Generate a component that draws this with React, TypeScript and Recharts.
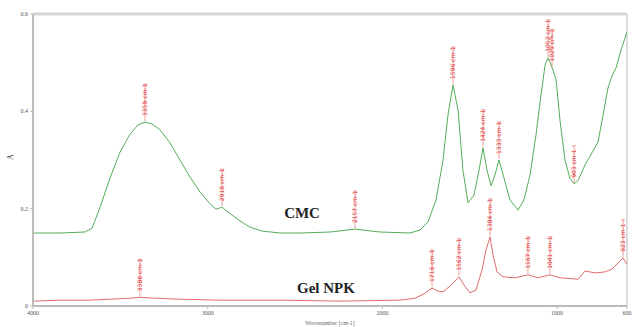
import { LineChart, Line, XAxis, YAxis, ReferenceLine, ReferenceDot } from 'recharts'

// wavenumbers (cm-1) and absorbance
const cmcWn = [
  4000, 3845, 3702, 3662, 3616, 3559, 3502, 3445, 3399, 3359, 3319, 3273, 3216, 3159, 3101, 3044,
  2987, 2953, 2918, 2884, 2815, 2758, 2689, 2586, 2472, 2300, 2157, 2014, 1842, 1785, 1739, 1693,
  1653, 1625, 1596, 1567, 1539, 1510, 1476, 1447, 1424, 1401, 1378, 1356, 1333, 1304, 1270, 1224,
  1190, 1155, 1121, 1092, 1069, 1052, 1041, 1029, 1006, 983, 955, 926, 903, 880, 840, 800, 766,
  737, 709, 686, 663, 635, 600,
]
const cmcAbs = [
  0.15, 0.15, 0.152, 0.16, 0.203, 0.263, 0.316, 0.353, 0.372, 0.378, 0.374, 0.362, 0.335, 0.3,
  0.265, 0.234, 0.21, 0.199, 0.203, 0.193, 0.175, 0.162, 0.154, 0.15, 0.15, 0.152, 0.158, 0.152,
  0.15, 0.156, 0.173, 0.218, 0.3, 0.392, 0.454, 0.403, 0.279, 0.212, 0.228, 0.279, 0.325, 0.279,
  0.247, 0.269, 0.3, 0.263, 0.218, 0.197, 0.218, 0.269, 0.351, 0.434, 0.495, 0.51, 0.501, 0.49,
  0.465, 0.38, 0.3, 0.262, 0.251, 0.258, 0.29, 0.315, 0.337, 0.392, 0.448, 0.472, 0.489, 0.525,
  0.563,
]

const gelWn = [
  4000, 3845, 3674, 3559, 3445, 3388, 3302, 3159, 2930, 2586, 2243, 1899, 1813, 1762, 1716, 1687,
  1653, 1607, 1562, 1533, 1499, 1464, 1430, 1407, 1384, 1367, 1344, 1310, 1241, 1167, 1110, 1041,
  983, 880, 840, 783, 726, 686, 646, 623, 600,
]
const gelAbs = [
  0.01, 0.012, 0.012, 0.014, 0.016, 0.018, 0.016, 0.014, 0.012, 0.012, 0.01, 0.012, 0.016, 0.025,
  0.037, 0.031, 0.029, 0.043, 0.06, 0.043, 0.027, 0.033, 0.074, 0.115, 0.142, 0.105, 0.07, 0.06,
  0.058, 0.064, 0.058, 0.064, 0.058, 0.055, 0.072, 0.068, 0.07, 0.076, 0.09, 0.099, 0.086,
]

const cmcPeaks = [3359, 2918, 2157, 1596, 1424, 1333, 1052, 1029, 903]
const gelPeaks = [3388, 1716, 1562, 1384, 1167, 1041, 623]

const xTicks = [4000, 3000, 2000, 1000, 600]
const yTicks = [0, 0.2, 0.4, 0.6]

const cmcData = cmcWn.map((wn, i) => ({ wn, a: cmcAbs[i] }))
const gelData = gelWn.map((wn, i) => ({ wn, a: gelAbs[i] }))

const peakOf = (data: { wn: number; a: number }[], wn: number) =>
  data.find((d) => d.wn === wn)?.a ?? 0

function PeakMark(props: any) {
  const { cx, cy, wn } = props
  if (cx == null || cy == null) return null
  return (
    <g>
      <line x1={cx} y1={cy - 1} x2={cx} y2={cy - 38} stroke="#e05a5a" strokeWidth={0.6} />
      <line x1={cx - 2} y1={cy - 38} x2={cx + 2} y2={cy - 38} stroke="#e05a5a" strokeWidth={0.6} />
      <text
        x={cx + 2}
        y={cy - 6}
        transform={`rotate(-90 ${cx + 2} ${cy - 6})`}
        fontSize={6}
        fill="#e02a2a"
        fontFamily="DejaVu Sans"
      >
        {`${wn} cm-1`}
      </text>
    </g>
  )
}

function Caption(props: any) {
  const { cx, cy, text } = props
  if (cx == null || cy == null) return null
  return (
    <text
      x={cx}
      y={cy}
      textAnchor="middle"
      fontSize={15}
      fontWeight="bold"
      fontFamily="Liberation Serif"
      fill="#222"
    >
      {text}
    </text>
  )
}

export default function App() {
  return (
    <div style={{ position: 'absolute', left: 0, top: 0, background: '#fff' }}>
      <LineChart width={635} height={327} margin={{ top: 14, right: 8, left: 8, bottom: 1 }}>
        <XAxis
          dataKey="wn"
          type="number"
          domain={[600, 4000]}
          reversed
          ticks={xTicks}
          allowDataOverflow
          height={20}
          tick={{ fontSize: 6, fill: '#555' }}
          tickLine={{ stroke: '#bbb' }}
          axisLine={{ stroke: '#bbb', strokeWidth: 2 }}
          tickSize={3}
          label={{ value: 'Wavenumber [cm-1]', position: 'insideBottom', offset: 1, fontSize: 6, fill: '#666' }}
        />
        <YAxis
          type="number"
          domain={[0, 0.6]}
          ticks={yTicks}
          width={25}
          tick={{ fontSize: 6, fill: '#555' }}
          tickFormatter={(v: number) => (v === 0 ? '0' : v.toFixed(1))}
          tickLine={{ stroke: '#bbb' }}
          axisLine={{ stroke: '#bbb', strokeWidth: 2 }}
          tickSize={3}
          label={{ value: 'A', angle: -90, position: 'insideLeft', offset: 2, fontSize: 8, fill: '#333' }}
        />
        <ReferenceLine y={0.6} stroke="#d6d6d6" strokeWidth={3} />
        <ReferenceLine x={600} stroke="#d0d0d0" strokeWidth={1.5} />
        <Line
          data={cmcData}
          dataKey="a"
          stroke="#55ad5a"
          strokeWidth={1}
          dot={false}
          isAnimationActive={false}
        />
        <Line
          data={gelData}
          dataKey="a"
          stroke="#e06a6a"
          strokeWidth={1}
          dot={false}
          isAnimationActive={false}
        />
        {cmcPeaks.map((wn) => (
          <ReferenceDot
            key={`c${wn}`}
            x={wn}
            y={peakOf(cmcData, wn)}
            r={0}
            shape={(p: any) => <PeakMark {...p} wn={wn} />}
          />
        ))}
        {gelPeaks.map((wn) => (
          <ReferenceDot
            key={`g${wn}`}
            x={wn}
            y={peakOf(gelData, wn)}
            r={0}
            shape={(p: any) => <PeakMark {...p} wn={wn} />}
          />
        ))}
        <ReferenceDot x={2460} y={0.18} r={0} shape={(p: any) => <Caption {...p} text="CMC" />} />
        <ReferenceDot x={2323} y={0.027} r={0} shape={(p: any) => <Caption {...p} text="Gel NPK" />} />
      </LineChart>
    </div>
  )
}
